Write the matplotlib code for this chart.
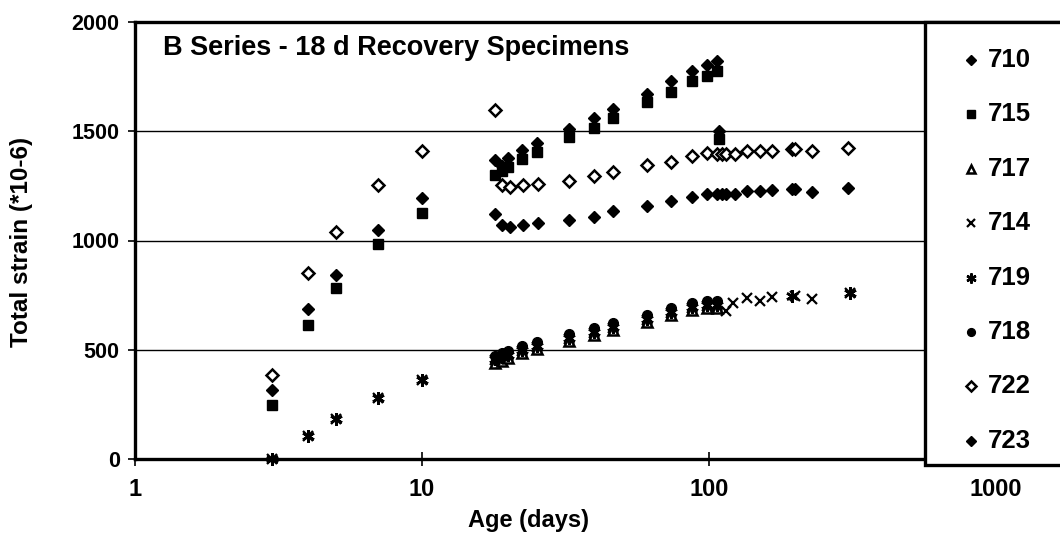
import matplotlib
matplotlib.use("Agg")
import matplotlib.pyplot as plt
from matplotlib.ticker import FixedLocator, NullLocator, FixedFormatter
from matplotlib.lines import Line2D
from matplotlib.patches import Rectangle

plt.rcParams['font.family'] = ['Liberation Sans', 'DejaVu Sans']
plt.rcParams['font.weight'] = 'bold'

# ---------------- data ----------------
title_text = "B Series - 18 d Recovery Specimens"
series_names = ["710", "715", "717", "714", "719", "718", "722", "723"]

age_710 = [3, 4, 5, 7, 10, 18, 19, 20, 22.3, 25.2, 32.5, 39.7, 46.3, 60.8, 73.7, 87, 98.4, 107, 108]
val_710 = [316, 688, 844, 1050, 1193, 1370, 1340, 1378, 1413, 1445, 1509, 1560, 1601, 1670, 1729, 1775, 1803, 1821, 1500]

age_715 = [3, 4, 5, 7, 10, 18, 19, 20, 22.3, 25.2, 32.5, 39.7, 46.3, 60.8, 73.7, 87, 98.4, 107, 108]
val_715 = [248, 615, 784, 982, 1128, 1300, 1320, 1335, 1372, 1404, 1472, 1514, 1560, 1633, 1679, 1729, 1752, 1775, 1463]

age_717 = [18, 19, 20, 22.3, 25.2, 32.5, 39.7, 46.3, 60.8, 73.7, 87, 98.4, 107]
val_717 = [440, 450, 460, 485, 503, 540, 568, 591, 627, 659, 682, 691, 691]

age_714 = [3, 4, 5, 7, 10, 18, 20, 22.3, 25.2, 32.5, 39.7, 46.3, 60.8, 73.7, 87, 98.4, 107, 115, 121, 136, 150, 166, 199, 228, 310]
val_714 = [0, 105, 183, 280, 362, 455, 470, 495, 512, 550, 578, 600, 635, 667, 690, 700, 700, 679, 716, 738, 725, 743, 748, 734, 761]

age_719 = [3, 4, 5, 7, 10, 18, 19, 20, 22.3, 25.2, 32.5, 39.7, 46.3, 60.8, 73.7, 87, 98.4, 107, 195, 310]
val_719 = [0, 105, 183, 280, 362, 458, 466, 476, 500, 518, 555, 583, 606, 642, 674, 697, 706, 706, 748, 761]

age_718 = [18, 19, 20, 22.3, 25.2, 32.5, 39.7, 46.3, 60.8, 73.7, 87, 98.4, 107]
val_718 = [473, 483, 493, 518, 536, 573, 601, 624, 660, 692, 715, 724, 724]

age_722 = [3, 4, 5, 7, 10, 18, 19, 20.3, 22.4, 25.3, 32.5, 39.7, 46.3, 60.8, 73.7, 87, 98.4, 107, 111, 115, 123, 136, 151, 166, 195, 199, 228, 306]
val_722 = [385, 849, 1037, 1252, 1408, 1596, 1252, 1243, 1252, 1257, 1271, 1294, 1312, 1344, 1358, 1386, 1399, 1394, 1394, 1394, 1394, 1408, 1408, 1408, 1417, 1417, 1410, 1422]

age_723 = [18, 19, 20.3, 22.4, 25.3, 32.5, 39.7, 46.3, 60.8, 73.7, 87, 98.4, 107, 111, 115, 123, 136, 151, 166, 195, 199, 228, 306]
val_723 = [1119, 1073, 1064, 1069, 1078, 1092, 1109, 1134, 1158, 1183, 1201, 1215, 1211, 1211, 1211, 1211, 1226, 1226, 1230, 1237, 1237, 1223, 1242]

x_ticks = [1, 10, 100, 1000]
x_ticklabels = ["1", "10", "100", "1000"]
y_ticks = [0, 500, 1000, 1500, 2000]
y_ticklabels = ["0", "500", "1000", "1500", "2000"]
x_label = "Age (days)"
y_label = "Total strain (*10-6)"

# ---------------- figure ----------------
W, H = 1060, 548
fig = plt.figure(figsize=(W / 100, H / 100), dpi=100)
ax_l, ax_r, ax_t, ax_b = 135, 1060, 22, 459
ax = fig.add_axes([ax_l / W, 1 - ax_b / H, (ax_r - ax_l) / W, (ax_b - ax_t) / H])

ax.set_xscale('log')
ax.set_xlim(1, 10 ** ((ax_r - ax_l) / 287.0))
ax.set_ylim(0, 2000)

styles = {
    "710": dict(marker='D', ms=6.5, mfc='black', mec='black'),
    "715": dict(marker='s', ms=6.5, mfc='black', mec='black'),
    "717": dict(marker='^', ms=7, mfc='white', mec='black', mew=1.8),
    "714": dict(marker='x', ms=7.5, mec='black', mew=1.6),
    "719": dict(marker=(6, 2, 0), ms=9, mec='black', mew=1.8),
    "718": dict(marker='o', ms=7, mfc='black', mec='black'),
    "722": dict(marker='D', ms=6.5, mfc='white', mec='black', mew=1.8),
    "723": dict(marker='D', ms=6.5, mfc='black', mec='black'),
}
data = {
    "710": (age_710, val_710), "715": (age_715, val_715), "717": (age_717, val_717),
    "714": (age_714, val_714), "719": (age_719, val_719), "718": (age_718, val_718),
    "722": (age_722, val_722), "723": (age_723, val_723),
}
for name in series_names:
    a, v = data[name]
    ax.plot(a, v, linestyle='none', label=name, clip_on=False, zorder=3, **styles[name])

# grid and frame
for yv in y_ticks[1:-1]:
    ax.axhline(yv, color='black', lw=1.0, zorder=1)
for s in ['left', 'bottom', 'top']:
    ax.spines[s].set_linewidth(2.4)
ax.spines['right'].set_visible(False)

ax.xaxis.set_major_locator(FixedLocator(x_ticks))
ax.xaxis.set_major_formatter(FixedFormatter(x_ticklabels))
ax.xaxis.set_minor_locator(NullLocator())
ax.yaxis.set_major_locator(FixedLocator(y_ticks))
ax.yaxis.set_major_formatter(FixedFormatter(y_ticklabels))
ax.tick_params(axis='x', direction='inout', length=10, width=1.2, pad=9, labelsize=17)
ax.tick_params(axis='y', direction='out', length=5, width=1.2, pad=6, labelsize=15.5)
for lab in ax.get_xticklabels() + ax.get_yticklabels():
    lab.set_fontweight('bold')

fig.text(529 / W, 1 - 520 / H, x_label, ha='center', va='center', fontsize=17, fontweight='bold')
fig.text(22 / W, 1 - 242 / H, y_label, ha='center', va='center', rotation=90, fontsize=17.5, fontweight='bold')
fig.text(163 / W, 1 - 48 / H, title_text, ha='left', va='center', fontsize=19.5, fontweight='bold')

# ---------------- legend (drawn as a boxed key on the right) ----------------
leg_l, leg_r, leg_t, leg_b = 925, 1075, 22, 465
fig.add_artist(Rectangle((leg_l / W, 1 - leg_b / H), (leg_r - leg_l) / W, (leg_b - leg_t) / H,
                         transform=fig.transFigure, facecolor='white', edgecolor='black',
                         lw=2.4, zorder=10, clip_on=False))
row0, pitch = 60, 54.4
for i, name in enumerate(series_names):
    yy = 1 - (row0 + i * pitch) / H
    st = dict(styles[name])
    st['ms'] = st['ms'] * 0.8
    fig.add_artist(Line2D([971 / W], [yy], transform=fig.transFigure, linestyle='none',
                          zorder=11, **st))
    fig.text(988 / W, yy, name, ha='left', va='center', fontsize=18.5, fontweight='bold', zorder=11)

fig.savefig("out.png", dpi=100, facecolor='white')
